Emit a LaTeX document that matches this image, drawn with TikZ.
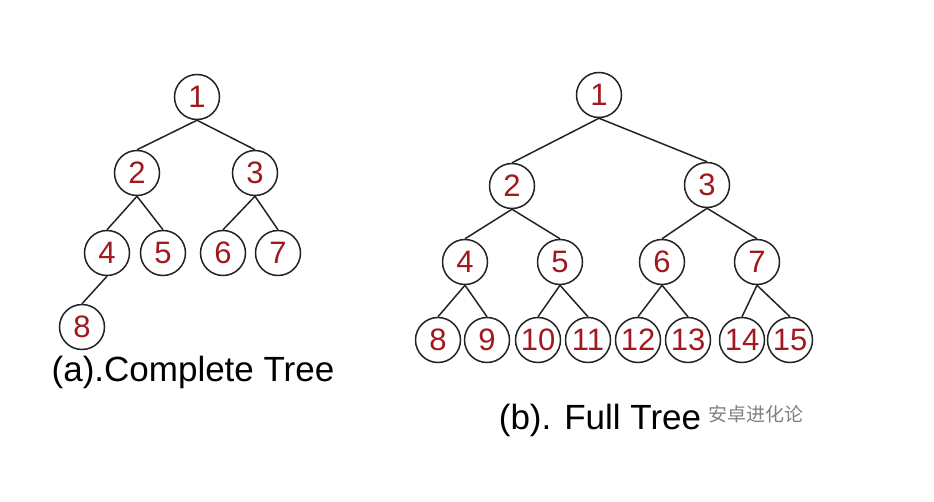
\documentclass[tikz,border=0pt]{standalone}
\usepackage{fontspec}
\setmainfont{Liberation Sans}
\newfontfamily\cjk{Noto Sans CJK SC}
\definecolor{numred}{RGB}{160,25,30}
\definecolor{edgegray}{RGB}{35,35,35}
\begin{document}
\begin{tikzpicture}[x=1pt, y=-1pt,
  treenode/.style={circle, draw=edgegray, line width=1.5pt, minimum size=45pt, inner sep=0pt,
    text=numred, font=\fontsize{31}{31}\selectfont},
  branch/.style={draw=edgegray, line width=1.5pt},
  caption/.style={font=\fontsize{35}{35}\selectfont}]
  \useasboundingbox (0,0) rectangle (934,502);
  % Nodes (a)
  \node (a1) [treenode] at (197, 97) {1};
  \node (a2) [treenode] at (137, 173) {2};
  \node (a3) [treenode] at (255, 173) {3};
  \node (a4) [treenode] at (107, 253) {4};
  \node (a5) [treenode] at (163, 253) {5};
  \node (a6) [treenode] at (223, 253) {6};
  \node (a7) [treenode] at (278, 253) {7};
  \node (a8) [treenode] at (82, 327) {8};
  % Nodes (b)
  \node (b1) [treenode] at (599, 95) {1};
  \node (b2) [treenode] at (512, 186) {2};
  \node (b3) [treenode] at (707, 185) {3};
  \node (b4) [treenode] at (465, 262) {4};
  \node (b5) [treenode] at (560, 262) {5};
  \node (b6) [treenode] at (662, 262) {6};
  \node (b7) [treenode] at (757, 262) {7};
  \node (b8) [treenode] at (438, 340) {8};
  \node (b9) [treenode] at (487, 340) {9};
  \node (b10) [treenode] at (538, 340) {10};
  \node (b11) [treenode] at (588, 340) {11};
  \node (b12) [treenode] at (638, 340) {12};
  \node (b13) [treenode] at (688, 340) {13};
  \node (b14) [treenode] at (742, 340) {14};
  \node (b15) [treenode] at (790, 340) {15};
  % Edges
  \foreach \p/\c in {a1/a2, a1/a3, a2/a4, a2/a5, a3/a6, a3/a7, a4/a8,
    b1/b2, b1/b3, b2/b4, b2/b5, b3/b6, b3/b7,
    b4/b8, b4/b9, b5/b10, b5/b11, b6/b12, b6/b13, b7/b14, b7/b15}
    \draw[branch] (\p.south) -- (\c.north);
  % Captions
  \node (capa) [caption] at (193, 372) {(a).Complete Tree};
  \node (capb) [caption] at (600, 420) {(b). Full Tree};
  \node (mark) [text=gray, font=\cjk\fontsize{19}{19}\selectfont] at (756, 414) {安卓进化论};
\end{tikzpicture}
\end{document}
